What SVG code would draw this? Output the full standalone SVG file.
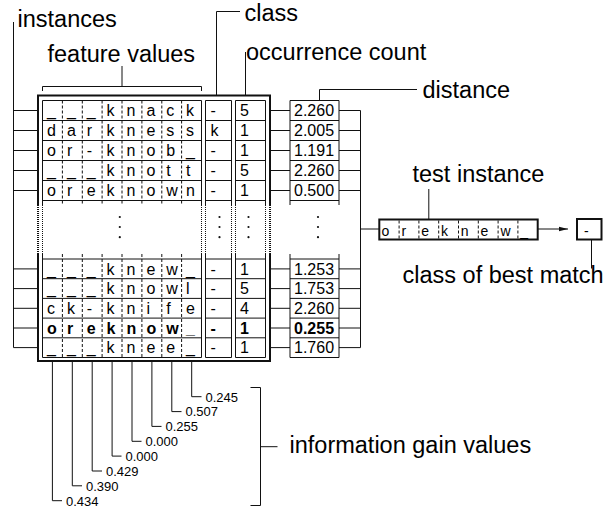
<svg xmlns="http://www.w3.org/2000/svg" width="616" height="510" viewBox="0 0 616 510">
  <defs>
    <style>
      .ln { stroke:#111; stroke-width:1; fill:none; }
      .thick { stroke:#111; stroke-width:2; fill:none; }
      .dash { stroke:#111; stroke-width:1; stroke-dasharray:3 2; fill:none; }
      .dot { stroke:#111; stroke-width:1; stroke-dasharray:1 1; fill:none; }
      .dotk { stroke:#111; stroke-width:2; stroke-dasharray:1 1; fill:none; }
      .box { stroke:#111; stroke-width:1; fill:#fff; }
      .boxk { stroke:#111; stroke-width:2; fill:#fff; }
      .lbl { font-family:"Liberation Sans", Arial, sans-serif; font-size:23.5px; fill:#000; }
      .cell { font-family:"Liberation Sans", Arial, sans-serif; font-size:16px; fill:#000; }
      .small { font-family:"Liberation Sans", Arial, sans-serif; font-size:14px; fill:#000; }
      .val { font-family:"Liberation Sans", Arial, sans-serif; font-size:13px; fill:#000; }
      .b { font-weight:bold; }
      .ell { fill:#111; }
    </style>
    <marker id="head" viewBox="0 0 9 6" refX="9" refY="3" markerWidth="9" markerHeight="6" markerUnits="userSpaceOnUse" orient="auto">
      <path d="M0,0.8 L9,3 L0,5.2 Z" fill="#111"/>
    </marker>
  </defs>
  <rect width="616" height="510" fill="#fff"/>

  <!-- connectors and label leaders -->
  <g id="connectors">
    <!-- instances bus -->
    <path class="ln" d="M13.5,22 V347.6"/>
    <path class="ln" d="M13.5,110.5 H38 M13.5,130.5 H38 M13.5,150.5 H38 M13.5,170.5 H38 M13.5,190.5 H38
                        M13.5,268.9 H38 M13.5,288.6 H38 M13.5,308.3 H38 M13.5,328 H38 M13.5,347.6 H38"/>
    <!-- feature values bracket -->
    <path class="ln" d="M42.5,91 V86.5 H201.5 V91 M122,86.5 V66"/>
    <!-- class leader -->
    <path class="ln" d="M216.5,95 V11.5 H240"/>
    <!-- occurrence count leader -->
    <path class="ln" d="M245.5,95 V52"/>
    <!-- distance leader -->
    <path class="ln" d="M319.5,100 V89.5 H417"/>
    <!-- table to distance -->
    <path class="ln" d="M270,110.5 H290 M270,130.5 H290 M270,150.5 H290 M270,170.5 H290 M270,190.5 H290
                        M270,268.9 H290 M270,288.6 H290 M270,308.3 H290 M270,328 H290 M270,347.6 H290"/>
    <!-- distance to bus -->
    <path class="ln" d="M339,110.5 H360.5 M339,130.5 H360.5 M339,150.5 H360.5 M339,170.5 H360.5 M339,190.5 H360.5
                        M339,268.9 H360.5 M339,288.6 H360.5 M339,308.3 H360.5 M339,328 H360.5 M339,347.6 H360.5"/>
    <path class="ln" d="M360.5,110.5 V347.6 M360.5,229 H379.3"/>
    <!-- test instance leader -->
    <path class="ln" d="M428.8,189 V219"/>
    <!-- arrow to best match -->
    <path class="ln" d="M537.7,229 H568" marker-end="url(#head)"/>
    <!-- best match leader -->
    <path class="ln" d="M591.5,240 V268.5"/>
    <!-- information gain leaders -->
    <path class="ln" d="M52.4,362 V500.7 H62
                        M72.3,362 V485.8 H82
                        M92.2,362 V471 H102
                        M112.1,362 V456.1 H121.5
                        M132,362 V441.3 H141.5
                        M151.9,362 V426.4 H161.5
                        M171.8,362 V411.6 H181.5
                        M191.7,362 V396.7 H201.5"/>
    <!-- information gain bracket -->
    <path class="ln" d="M250.5,387.5 H260.5 V505.5 H250.5 M260.5,446.7 H277.5"/>
  </g>

  <!-- labels -->
  <g id="labels">
    <text class="lbl" x="17.5" y="26.7">instances</text>
    <text class="lbl" x="47.5" y="61.7">feature values</text>
    <text class="lbl" x="244.5" y="20.7">class</text>
    <text class="lbl" x="246" y="60">occurrence count</text>
    <text class="lbl" x="422.5" y="98">distance</text>
    <text class="lbl" x="412.5" y="181.7">test instance</text>
    <text class="lbl" x="402.5" y="282.7">class of best match</text>
    <text class="lbl" x="289.5" y="453.3">information gain values</text>
    <text class="val" x="66" y="505.5">0.434</text>
    <text class="val" x="86" y="490.6">0.390</text>
    <text class="val" x="106" y="475.8">0.429</text>
    <text class="val" x="125.5" y="460.9">0.000</text>
    <text class="val" x="145.5" y="446.1">0.000</text>
    <text class="val" x="165.5" y="431.2">0.255</text>
    <text class="val" x="185.5" y="416.4">0.507</text>
    <text class="val" x="205.5" y="401.5">0.245</text>
  </g>

  <!-- instance base -->
  <g id="instance-table">
    <!-- outer frame -->
    <path class="thick" d="M38,205 V95.5 H270 V205 M38,254 V361 H270 V254"/>
    <path class="dotk" d="M38,205 V254 M270,205 V254"/>
    <!-- column blocks, upper part -->
    <path class="ln" d="M42.5,100.5 H201.5 M42.5,120.5 H201.5 M42.5,140.5 H201.5 M42.5,160.5 H201.5 M42.5,180.5 H201.5 M42.5,200.5 H201.5
                        M205.5,100.5 H231.5 M205.5,120.5 H231.5 M205.5,140.5 H231.5 M205.5,160.5 H231.5 M205.5,180.5 H231.5 M205.5,200.5 H231.5
                        M235.5,100.5 H265.5 M235.5,120.5 H265.5 M235.5,140.5 H265.5 M235.5,160.5 H265.5 M235.5,180.5 H265.5 M235.5,200.5 H265.5
                        M42.5,100.5 V205 M201.5,100.5 V205 M205.5,100.5 V205 M231.5,100.5 V205 M235.5,100.5 V205 M265.5,100.5 V205"/>
    <!-- column blocks, lower part -->
    <path class="ln" d="M42.5,259 H201.5 M42.5,278.7 H201.5 M42.5,298.4 H201.5 M42.5,318.1 H201.5 M42.5,337.8 H201.5 M42.5,357.5 H201.5
                        M205.5,259 H231.5 M205.5,278.7 H231.5 M205.5,298.4 H231.5 M205.5,318.1 H231.5 M205.5,337.8 H231.5 M205.5,357.5 H231.5
                        M235.5,259 H265.5 M235.5,278.7 H265.5 M235.5,298.4 H265.5 M235.5,318.1 H265.5 M235.5,337.8 H265.5 M235.5,357.5 H265.5
                        M42.5,254 V357.5 M201.5,254 V357.5 M205.5,254 V357.5 M231.5,254 V357.5 M235.5,254 V357.5 M265.5,254 V357.5"/>
    <!-- elided rows -->
    <path class="dot" d="M42.5,205 V254 M201.5,205 V254 M205.5,205 V254 M231.5,205 V254 M235.5,205 V254 M265.5,205 V254"/>
    <!-- feature cell separators -->
    <path class="dash" d="M62.4,100.5 V205 M82.3,100.5 V205 M102.1,100.5 V205 M122,100.5 V205 M141.9,100.5 V205 M161.8,100.5 V205 M181.6,100.5 V205
                          M62.4,254 V357.5 M82.3,254 V357.5 M102.1,254 V357.5 M122,254 V357.5 M141.9,254 V357.5 M161.8,254 V357.5 M181.6,254 V357.5"/>
    <g class="ell">
      <circle cx="119.8" cy="217" r="1.1"/><circle cx="119.8" cy="227" r="1.1"/><circle cx="119.8" cy="237.2" r="1.1"/>
      <circle cx="219.5" cy="217" r="1.1"/><circle cx="219.5" cy="227" r="1.1"/><circle cx="219.5" cy="237.2" r="1.1"/>
      <circle cx="248.5" cy="217" r="1.1"/><circle cx="248.5" cy="227" r="1.1"/><circle cx="248.5" cy="237.2" r="1.1"/>
    </g>
    <!-- feature values -->
    <g class="cell">
      <text x="47 66.9 86.8 106.6 126.5 146.4 166.3 186.1" y="116">___knack</text>
      <text x="47 66.9 86.8 106.6 126.5 146.4 166.3 186.1" y="136">darkness</text>
      <text x="47 66.9 86.8 106.6 126.5 146.4 166.3 186.1" y="156">or-knob_</text>
      <text x="47 66.9 86.8 106.6 126.5 146.4 166.3 186.1" y="176">___knott</text>
      <text x="47 66.9 86.8 106.6 126.5 146.4 166.3 186.1" y="196">oreknown</text>
      <text x="47 66.9 86.8 106.6 126.5 146.4 166.3 186.1" y="274.5">___knew_</text>
      <text x="47 66.9 86.8 106.6 126.5 146.4 166.3 186.1" y="294.2">___knowl</text>
      <text x="47 66.9 86.8 106.6 126.5 146.4 166.3 186.1" y="313.9">ck-knife</text>
      <text class="b" x="47 66.9 86.8 106.6 126.5 146.4 166.3 186.1" y="333.6">oreknow_</text>
      <text x="47 66.9 86.8 106.6 126.5 146.4 166.3 186.1" y="353.3">___knee_</text>
      <!-- class -->
      <text x="210.5" y="116">-</text>
      <text x="210.5" y="136">k</text>
      <text x="210.5" y="156">-</text>
      <text x="210.5" y="176">-</text>
      <text x="210.5" y="196">-</text>
      <text x="210.5" y="274.5">-</text>
      <text x="210.5" y="294.2">-</text>
      <text x="210.5" y="313.9">-</text>
      <text class="b" x="210.5" y="333.6">-</text>
      <text x="210.5" y="353.3">-</text>
      <!-- occurrence count -->
      <text x="240" y="116">5</text>
      <text x="240" y="136">1</text>
      <text x="240" y="156">1</text>
      <text x="240" y="176">5</text>
      <text x="240" y="196">1</text>
      <text x="240" y="274.5">1</text>
      <text x="240" y="294.2">5</text>
      <text x="240" y="313.9">4</text>
      <text class="b" x="240" y="333.6">1</text>
      <text x="240" y="353.3">1</text>
    </g>
  </g>

  <!-- distances -->
  <g id="distances">
    <path class="ln" d="M290,100.5 H339 M290,120.5 H339 M290,140.5 H339 M290,160.5 H339 M290,180.5 H339 M290,200.5 H339
                        M290,100.5 V205 M339,100.5 V205
                        M290,259 H339 M290,278.7 H339 M290,298.4 H339 M290,318.1 H339 M290,337.8 H339 M290,357.5 H339
                        M290,254 V357.5 M339,254 V357.5"/>
    <g class="ell">
      <circle cx="318" cy="217" r="1.1"/><circle cx="318" cy="227" r="1.1"/><circle cx="318" cy="237.2" r="1.1"/>
    </g>
    <g class="cell">
      <text x="294" y="116">2.260</text>
      <text x="294" y="136">2.005</text>
      <text x="294" y="156">1.191</text>
      <text x="294" y="176">2.260</text>
      <text x="294" y="196">0.500</text>
      <text x="294" y="274.5">1.253</text>
      <text x="294" y="294.2">1.753</text>
      <text x="294" y="313.9">2.260</text>
      <text class="b" x="294" y="333.6">0.255</text>
      <text x="294" y="353.3">1.760</text>
    </g>
  </g>

  <!-- test instance -->
  <g id="test-instance">
    <rect class="boxk" x="379.3" y="219.5" width="158.4" height="20"/>
    <path class="dash" d="M399.1,220.5 V239 M418.9,220.5 V239 M438.7,220.5 V239 M458.5,220.5 V239 M478.3,220.5 V239 M498.1,220.5 V239 M517.9,220.5 V239"/>
    <text class="small" x="381.6 401.4 421.2 441 460.8 480.6 500.4 520.2" y="235.5">oreknew_</text>
  </g>

  <!-- class of best match -->
  <g id="best-class">
    <rect class="boxk" x="577" y="219" width="24.5" height="20.5"/>
    <text class="small" x="584" y="235.5">-</text>
  </g>
</svg>
